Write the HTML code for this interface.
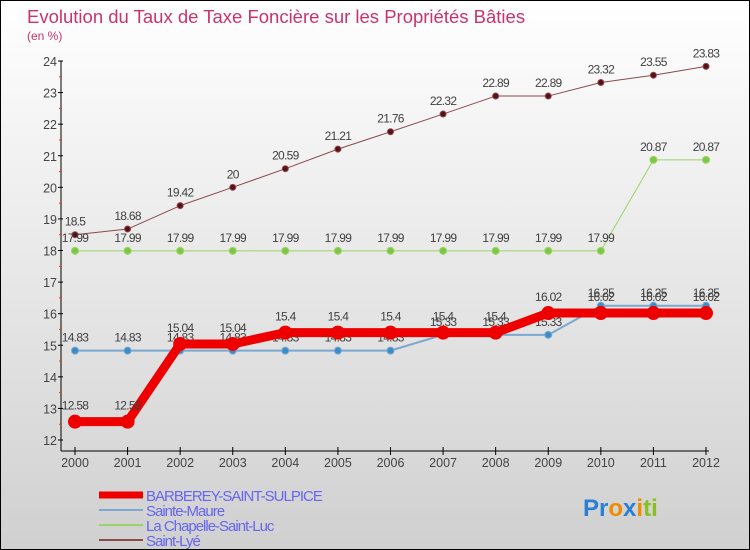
<!DOCTYPE html>
<html><head><meta charset="utf-8"><style>
html,body{margin:0;padding:0}
body{width:750px;height:550px;overflow:hidden;font-family:"Liberation Sans",sans-serif}
#wrap{position:relative;width:748px;height:548px;border:1px solid #000;background:linear-gradient(#ffffff,#d0d0d0)}
</style></head><body>
<div id="wrap">
<svg id="chart" width="748" height="548" style="position:absolute;left:0;top:0"></svg>
</div>
<script>
const years=[2000,2001,2002,2003,2004,2005,2006,2007,2008,2009,2010,2011,2012];
const barberey=[12.58,12.58,15.04,15.04,15.4,15.4,15.4,15.4,15.4,16.02,16.02,16.02,16.02];
const sainteMaure=[14.83,14.83,14.83,14.83,14.83,14.83,14.83,15.33,15.33,15.33,16.25,16.25,16.25];
const laChapelle=[17.99,17.99,17.99,17.99,17.99,17.99,17.99,17.99,17.99,17.99,17.99,20.87,20.87];
const saintLye=[18.5,18.68,19.42,20,20.59,21.21,21.76,22.32,22.89,22.89,23.32,23.55,23.83];
const yTicks=[12,13,14,15,16,17,18,19,20,21,22,23,24];
const legendNames=["BARBEREY-SAINT-SULPICE","Sainte-Maure","La Chapelle-Saint-Luc","Saint-Lyé"];

const NS="http://www.w3.org/2000/svg";
const svg=document.getElementById('chart');
const X=i=>74+i*(631/12);
const Y=v=>439-(v-12)*(379/12);
function mk(t,a,p){const e=document.createElementNS(NS,t);for(const k in a)e.setAttribute(k,a[k]);(p||svg).appendChild(e);return e;}
const F='"Liberation Sans",sans-serif';

let t=mk('text',{x:26,y:22,'font-size':18.5,fill:'#c8336e','font-family':F});

t.textContent='Evolution du Taux de Taxe Foncière sur les Propriétés Bâties';
t=mk('text',{x:26,y:39,'font-size':12,fill:'#c8336e','font-family':F});

t.textContent='(en %)';

let ax=mk('line',{x1:60,y1:60,x2:60,y2:450,stroke:'#000','stroke-width':1});

ax=mk('line',{x1:60,y1:450,x2:708,y2:450,stroke:'#000','stroke-width':1});

yTicks.forEach(v=>{
  mk('line',{x1:57,y1:Y(v),x2:62,y2:Y(v),stroke:'#000'});
  if(v<24)mk('line',{x1:58,y1:Y(v+0.5),x2:61,y2:Y(v+0.5),stroke:'#e33'});
  const l=mk('text',{x:56,y:Y(v)+5,'font-size':12.5,fill:'#444','text-anchor':'end','font-family':F});
  
  l.textContent=v;
});
years.forEach((yr,i)=>{
  mk('line',{x1:X(i),y1:446,x2:X(i),y2:454,stroke:'#000'});
  const l=mk('text',{x:X(i),y:466,'font-size':12.5,fill:'#444','text-anchor':'middle','font-family':F});
  
  l.textContent=yr;
});

function series(data,color,w,r,dot,name,labelOff){
  const g=mk('g',{});
  
  const pts=data.map((v,i)=>X(i)+','+Y(v)).join(' ');
  const pl=mk('polyline',{points:pts,fill:'none',stroke:color,'stroke-width':w,'stroke-linejoin':'round'},g);
  
  data.forEach((v,i)=>{
    const c=mk('circle',{cx:X(i),cy:Y(v),r:r,fill:dot,stroke:color,'stroke-width':1},g);
    
    const l=mk('text',{x:X(i),y:Y(v)-labelOff,'font-size':12,fill:'#404040','text-anchor':'middle','font-family':F,'letter-spacing':'-0.7'},g);
    
    l.textContent=v;
  });
}
series(saintLye,'#8b4a4a',1,3,'#5a1018','saint-lye',9);
series(laChapelle,'#9ad466',1,3.5,'#7dc843','la-chapelle',9);
series(sainteMaure,'#7aa8d0',2,3.5,'#3c8cc8','sainte-maure',9);
series(barberey,'#ee0000',9,6.5,'#ee0000','barberey',12);

const lc=['#ee0000','#7aa8d0','#9ad466','#8b4a4a'],lw=[7,2,2,2];
legendNames.forEach((n,i)=>{
  const y=494+i*15;
  const g=mk('g',{});
  
  mk('line',{x1:98,y1:y,x2:142,y2:y,stroke:lc[i],'stroke-width':lw[i]},g);
  const l=mk('text',{x:145,y:y+6,'font-size':15,fill:'#6666ee','font-family':F,'letter-spacing':'-1'},g);
  l.textContent=n;
});
const logo=mk('text',{x:582,y:515,'font-size':24,'font-family':F,'font-weight':'bold'});

[['P','#2a7fd4'],['r','#2a7fd4'],['o','#f08a00'],['x','#2a7fd4'],['i','#f08a00'],['t','#88c020'],['i','#88c020']].forEach(([c,col])=>{
  const s=mk('tspan',{fill:col},logo);s.textContent=c;
});
</script>
</body></html>
